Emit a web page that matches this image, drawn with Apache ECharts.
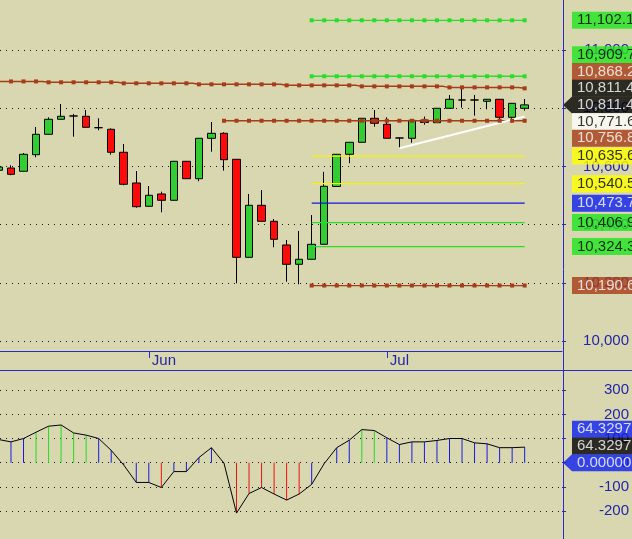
<!DOCTYPE html>
<html><head><meta charset="utf-8">
<script src="https://cdn.jsdelivr.net/npm/echarts@6/dist/echarts.min.js"></script>
<style>html,body{margin:0;padding:0;background:#d8d7b0;}#c{width:632px;height:539px;}</style>
</head><body><div id="c"></div>
<script>
// ---------- DATA ----------
const candleOpen  = [10586.6,10594.5,10583.2,10640.2,10710.3,10761.9,10773.2,10772.2,10733.0,10727.5,10648.5,10543.0,10462.9,10505.2,10483.5,10617.5,10557.7,10696.6,10713.7,10624.4,10287.6,10466.3,10411.3,10329.9,10263.6,10280.8,10332.3,10530.9,10641.6,10682.8,10765.3,10744.7,10697.6,10696.6,10759.4,10750.2,10799.7,10828.2,10828.2,10823.7,10830.6,10768.7,10799.7];
const candleClose = [10597.9,10572.8,10641.6,10710.3,10761.9,10772.2,10773.2,10734.4,10733.0,10648.5,10538.5,10461.5,10500.7,10483.5,10617.5,10557.7,10696.6,10713.7,10623.0,10287.6,10466.3,10411.3,10349.5,10263.6,10280.8,10332.3,10531.6,10641.6,10682.8,10765.3,10748.1,10696.6,10697.6,10758.4,10750.9,10799.7,10830.6,10828.2,10828.2,10830.6,10768.7,10816.8,10811.4];
const candleLow   = [10584.2,10569.4,10582.5,10631.3,10709.6,10761.2,10702.1,10733.7,10724.0,10640.2,10535.0,10458.1,10462.2,10442.3,10482.8,10556.7,10548.8,10650.5,10585.2,10198.3,10286.9,10410.6,10322.0,10203.8,10194.8,10280.1,10331.6,10530.2,10610.6,10682.1,10736.4,10695.9,10662.2,10681.4,10743.3,10749.1,10799.0,10801.7,10774.2,10796.2,10759.4,10751.5,10791.4];
const candleHigh  = [10601.4,10603.8,10646.0,10735.4,10768.7,10814.4,10780.1,10793.8,10765.3,10730.9,10677.0,10584.2,10532.6,10513.1,10618.6,10618.6,10697.6,10752.6,10717.2,10625.4,10505.2,10518.9,10419.2,10347.1,10378.0,10433.0,10581.4,10642.6,10683.8,10766.3,10793.8,10768.7,10699.3,10759.4,10771.5,10800.7,10845.4,10868.4,10845.4,10831.6,10831.6,10817.9,10831.6];
const maValues    = [10892,10892,10892,10892,10889,10889,10889,10889,10889,10889,10885.5,10885.5,10885.5,10885.5,10885.5,10885.5,10882,10882,10882,10882,10882,10882,10882,10878.5,10878.5,10878.5,10878.5,10878.5,10878.5,10875,10875,10875,10875,10875,10875,10875,10871.5,10871.5,10871.5,10871.5,10871.5,10871.5,10868.2];
const levelValues = [11102.1,10909.7,10756.8,10635.6,10540.5,10473.7,10406.9,10324.3,10190.6];
const levelStart  = [25,25,18,25,25,25,25,25,25];
const trendX      = [32,42];
const trendY      = [10662.2,10771.6];
const oscValues   = [96,86,100,126,151,156,123,114,100,51,-10,-82,-82,-103,-37,-37,21,62,-2,-209,-128,-103,-130,-155,-130,-90,-4,62,93,137,133,103,75,86,86,92,100,100,82,78,62,62,64.3297];
const priceTicks  = [10000,10200,10400,10600,10800,11000];
const oscTicks    = [-200,-100,0,100,200,300];
const monthIdx    = [12,31];
const monthNames  = ['Jun','Jul'];
const topTagValues = [11102.1,10909.7,10868.2,10811.4,10811.4,10771.6,10756.8,10635.6,10540.5,10473.7,10406.9,10324.3,10190.6];
const topTagAnchor = 4;
const botTagValues = [64.3297,64.3297,0];
const botTagAnchor = 2;

// ---------- STYLE ----------
const BG='#d8d7b0', AX='#2a2ac8', AXT='#2424a8';
const GREEN='#1ee61e', BROWN='#a63c18', YEL='#f6f600', BLUE='#1414e0';
const FONT='Liberation Sans, Arial, sans-serif';
const topTagStyle = [[GREEN,'#000'],[GREEN,'#000'],[BROWN,'#fff'],['#000','#fff'],['#000','#fff'],['#fff','#000'],[BROWN,'#fff'],['#ffff00','#000'],['#ffff00','#000'],['#0c1ef0','#fff'],[GREEN,'#000'],[GREEN,'#000'],[BROWN,'#fff']];
const botTagStyle = [['#0c1ef0','#fff'],['#000','#fff'],['#0c1ef0','#fff']];
const levelStyle = [
  {c:'#2add2a',sym:true},{c:'#2add2a',sym:true},{c:BROWN,sym:true},{c:YEL,sym:false},{c:YEL,sym:false},
  {c:BLUE,sym:false},{c:'#2add2a',sym:false},{c:'#2add2a',sym:false},{c:BROWN,sym:true}];

const X_MIN=0.1235, X_MAX=44.98, P_MIN=9965.6, P_MAX=11171.8, O_MIN=-316.3, O_MAX=383.8;
const TOP_H=351, BOT_TOP=370, BOT_H=169, PLOT_W=563, TAG_H=16.7;

function fmtPrice(v){const s=v.toFixed(1);const [a,b]=s.split('.');return a.replace(/\B(?=(\d{3})+(?!\d))/g,',')+'.'+b;}
function fmtInt(v){return String(Math.round(v)).replace(/\B(?=(\d{3})+(?!\d))/g,',');}
function fmtOsc(v){return v===0?'0.00000':v.toFixed(4);}
function stackTags(vals, anchor, hv){
  const p=vals.slice();
  for(let i=anchor-1;i>=0;i--) p[i]=Math.max(vals[i],p[i+1]+hv);
  for(let i=anchor+1;i<vals.length;i++) p[i]=Math.min(vals[i],p[i-1]-hv);
  return p;
}
const lastIdx=candleClose.length-1;
const topPos=stackTags(topTagValues, topTagAnchor, TAG_H*(P_MAX-P_MIN)/TOP_H);
const botPos=stackTags(botTagValues, botTagAnchor, TAG_H*(O_MAX-O_MIN)/BOT_H);

const dotted={color:'#1a1a1a',type:[1,5],width:1};
const series=[];
series.push({type:'candlestick',xAxisIndex:0,yAxisIndex:0,barWidth:8,
  data:candleOpen.map((o,i)=>[i,o,candleClose[i],candleLow[i],candleHigh[i]]),
  itemStyle:{color:'#33cc33',color0:'#ff0a0a',borderColor:'#000',borderColor0:'#000',borderColorDoji:'#000',borderWidth:1}});
series.push({type:'line',xAxisIndex:0,yAxisIndex:0,step:'middle',data:maValues.map((v,i)=>[i,v]),
  symbol:'rect',symbolSize:4,showSymbol:true,lineStyle:{color:BROWN,width:1.5},itemStyle:{color:BROWN}});
levelValues.forEach((v,k)=>{
  const pts=[];for(let i=levelStart[k];i<=lastIdx;i++)pts.push([i,v]);
  const st=levelStyle[k];
  series.push({type:'line',xAxisIndex:0,yAxisIndex:0,data:pts,symbol:st.sym?'rect':'none',symbolSize:4,showSymbol:st.sym,
    lineStyle:{color:st.c,width:1.3},itemStyle:{color:st.c}});
});
series.push({type:'line',xAxisIndex:0,yAxisIndex:0,data:trendX.map((x,i)=>[x,trendY[i]]),symbol:'none',lineStyle:{color:'#fff',width:2}});
// oscillator
series.push({type:'bar',xAxisIndex:1,yAxisIndex:1,barWidth:1,data:oscValues.map((v,i)=>[i,v]),
  itemStyle:{color:p=>p.value[1]>110?'#22dd22':(p.value[1]<-100?'#ee1111':'#1a1ae0')},
  markLine:{silent:true,symbol:'none',label:{show:false},lineStyle:{color:'#1a1ae0',type:'solid',width:1},
    data:[[{coord:[0,0]},{coord:[lastIdx,0]}]]}});
series.push({type:'line',xAxisIndex:1,yAxisIndex:1,data:oscValues.map((v,i)=>[i,v]),symbol:'none',lineStyle:{color:'#000',width:1}});
// tags
function tagSeries(vals,pos,styles,fmt,xi){
  return {type:'scatter',xAxisIndex:xi,yAxisIndex:xi,symbolSize:0,silent:true,z:10,
    data:vals.map((v,k)=>({value:[0,pos[k]],raw:v,label:{backgroundColor:styles[k][0],color:styles[k][1]}})),
    label:{show:true,position:'right',distance:0,fontSize:15,fontFamily:FONT,lineHeight:17,padding:[0,20,0,5],
      formatter:p=>fmt(vals[p.dataIndex])}};
}
series.push(tagSeries(topTagValues,topPos,topTagStyle,fmtPrice,2));
series.push(tagSeries(botTagValues,botPos,botTagStyle,fmtOsc,3));
const arrowPath='path://M0,5L5,0L5,10Z';
series.push({type:'scatter',xAxisIndex:2,yAxisIndex:2,silent:true,z:10,symbol:arrowPath,symbolSize:[9,17],symbolOffset:[-4.5,0],
  data:[[0,topTagValues[topTagAnchor]]],itemStyle:{color:topTagStyle[topTagAnchor][0]}});
series.push({type:'scatter',xAxisIndex:3,yAxisIndex:3,silent:true,z:10,symbol:arrowPath,symbolSize:[9,17],symbolOffset:[-4.5,0],
  data:[[0,botTagValues[botTagAnchor]]],itemStyle:{color:botTagStyle[botTagAnchor][0]}});

const chart=echarts.init(document.getElementById('c'),null,{renderer:'canvas'});
chart.setOption({
  backgroundColor:BG,animation:false,
  grid:[{left:0,top:0,width:PLOT_W,height:TOP_H},{left:0,top:BOT_TOP,width:PLOT_W,height:BOT_H},
        {left:572,top:0,width:60,height:TOP_H},{left:572,top:BOT_TOP,width:60,height:BOT_H}],
  xAxis:[
    {gridIndex:0,type:'value',min:X_MIN,max:X_MAX,position:'bottom',
     axisLine:{show:true,lineStyle:{color:AX,width:1}},
     axisTick:{show:true,customValues:monthIdx,length:7,lineStyle:{color:AX}},
     axisLabel:{show:true,customValues:monthIdx,formatter:v=>monthNames[monthIdx.indexOf(v)],color:AXT,fontSize:15,fontFamily:FONT,align:'left',margin:2,padding:[0,0,0,3]},
     splitLine:{show:false}},
    {gridIndex:1,type:'value',min:X_MIN,max:X_MAX,show:false},
    {gridIndex:2,type:'value',min:0,max:1,show:false},
    {gridIndex:3,type:'value',min:0,max:1,show:false}],
  yAxis:[
    {gridIndex:0,type:'value',min:P_MIN,max:P_MAX,position:'right',axisLine:{show:false},
     axisTick:{show:true,customValues:priceTicks,length:4,lineStyle:{color:AX}},
     axisLabel:{show:true,customValues:priceTicks,formatter:fmtInt,color:AXT,fontSize:15,fontFamily:FONT,align:'right',margin:67},
     splitLine:{show:true,lineStyle:dotted}},
    {gridIndex:1,type:'value',min:O_MIN,max:O_MAX,position:'right',axisLine:{show:false},
     axisTick:{show:true,customValues:oscTicks,length:4,lineStyle:{color:AX}},
     axisLabel:{show:true,customValues:oscTicks,formatter:v=>String(v),color:AXT,fontSize:15,fontFamily:FONT,align:'right',margin:67},
     splitLine:{show:true,lineStyle:dotted}},
    {gridIndex:2,type:'value',min:P_MIN,max:P_MAX,show:false},
    {gridIndex:3,type:'value',min:O_MIN,max:O_MAX,show:false}],
  graphic:[
    {type:'line',silent:true,z:100,shape:{x1:PLOT_W+0.5,y1:0,x2:PLOT_W+0.5,y2:539},style:{stroke:AX,lineWidth:1}},
    {type:'line',silent:true,z:100,shape:{x1:0,y1:BOT_TOP+0.5,x2:632,y2:BOT_TOP+0.5},style:{stroke:AX,lineWidth:1}}],
  series:series
});
</script></body></html>
